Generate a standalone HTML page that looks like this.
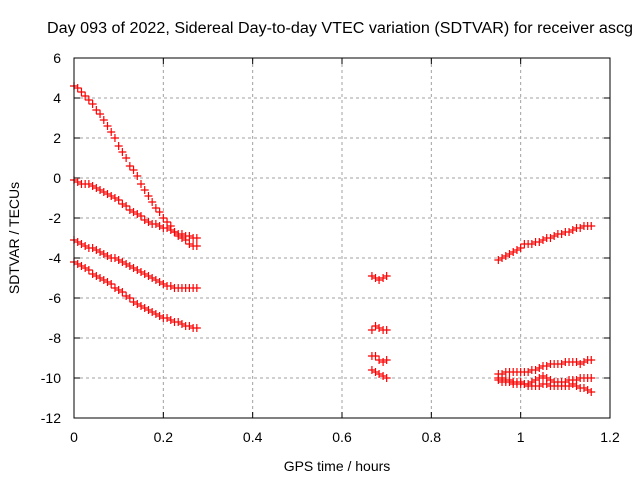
<!DOCTYPE html>
<html><head><meta charset="utf-8"><style>
body{margin:0;background:#fff}
svg text{font-family:"Liberation Sans",sans-serif;font-size:14px;fill:#000}
</style></head><body>
<svg id="c" width="640" height="480" xmlns="http://www.w3.org/2000/svg">
<text x="47" y="33" textLength="586" lengthAdjust="spacingAndGlyphs" style="font-size:15.5px">Day 093 of 2022, Sidereal Day-to-day VTEC variation (SDTVAR) for receiver ascg</text>
<text x="337" y="471" text-anchor="middle">GPS time / hours</text>
<text transform="translate(19,238) rotate(-90)" text-anchor="middle">SDTVAR / TECUs</text>
<g id="grid"></g><g id="ticks"></g><g id="marks"></g>
<rect x="74" y="58" width="536" height="360" fill="none" stroke="#000" stroke-width="1"/>
</svg>
<script>
const xTicks=[0,0.2,0.4,0.6,0.8,1,1.2];
const yTicks=[6,4,2,0,-2,-4,-6,-8,-10,-12];
const tA=[0,0.0083,0.0167,0.025,0.0333,0.0417,0.05,0.0583,0.0667,0.075,0.0833,0.0917,0.1,0.1083,0.1167,0.125,0.1333,0.1417,0.15,0.1583,0.1667,0.175,0.1833,0.1917,0.2,0.2083,0.2167,0.225,0.2333,0.2417,0.25,0.2583,0.2667,0.275];
const tB=[0.667,0.675,0.683,0.692,0.7];
const tC=[0.95,0.9583,0.9667,0.975,0.9833,0.9917,1,1.0083,1.0167,1.025,1.0333,1.0417,1.05,1.0583,1.0667,1.075,1.0833,1.0917,1.1,1.1083,1.1167,1.125,1.1333,1.1417,1.15,1.158];
const a1=[4.6,4.5,4.3,4.1,3.9,3.7,3.4,3.2,2.9,2.6,2.3,2.0,1.6,1.3,1.0,0.6,0.4,0.1,-0.3,-0.6,-0.9,-1.2,-1.5,-1.7,-2.0,-2.2,-2.4,-2.7,-2.9,-3.0,-3.1,-3.3,-3.4,-3.4];
const a2=[-0.1,-0.2,-0.3,-0.3,-0.3,-0.4,-0.5,-0.6,-0.7,-0.8,-0.9,-1.0,-1.1,-1.3,-1.4,-1.6,-1.7,-1.8,-1.9,-2.1,-2.2,-2.3,-2.3,-2.4,-2.5,-2.5,-2.6,-2.7,-2.8,-2.8,-2.9,-2.9,-3.0,-3.0];
const a3=[-3.1,-3.2,-3.3,-3.4,-3.5,-3.5,-3.6,-3.7,-3.8,-3.9,-4.0,-4.0,-4.1,-4.2,-4.3,-4.4,-4.5,-4.6,-4.7,-4.8,-4.9,-5.0,-5.1,-5.2,-5.3,-5.4,-5.4,-5.5,-5.5,-5.5,-5.5,-5.5,-5.5,-5.5];
const a4=[-4.2,-4.3,-4.4,-4.5,-4.6,-4.8,-4.9,-5.0,-5.1,-5.2,-5.3,-5.5,-5.6,-5.7,-5.9,-6.0,-6.2,-6.3,-6.4,-6.5,-6.6,-6.7,-6.8,-6.9,-7.0,-7.0,-7.1,-7.2,-7.2,-7.3,-7.4,-7.4,-7.5,-7.5];
const b1=[-4.9,-5.0,-5.1,-5.0,-4.9];
const b2=[-7.6,-7.4,-7.5,-7.6,-7.6];
const b3=[-8.9,-8.9,-9.1,-9.2,-9.1];
const b4=[-9.6,-9.7,-9.8,-9.9,-10.0];
const c1=[-4.1,-4.0,-3.9,-3.8,-3.7,-3.6,-3.5,-3.3,-3.3,-3.3,-3.2,-3.2,-3.1,-3.0,-3.0,-2.9,-2.8,-2.8,-2.7,-2.7,-2.6,-2.5,-2.5,-2.4,-2.4,-2.4];
const c2=[-9.8,-9.8,-9.7,-9.7,-9.7,-9.7,-9.7,-9.7,-9.7,-9.6,-9.6,-9.5,-9.4,-9.4,-9.3,-9.3,-9.3,-9.3,-9.2,-9.2,-9.2,-9.2,-9.3,-9.2,-9.1,-9.1];
const c3=[-10.0,-10.0,-10.1,-10.1,-10.2,-10.2,-10.2,-10.3,-10.3,-10.2,-10.1,-10.0,-9.9,-10.0,-10.1,-10.2,-10.2,-10.2,-10.2,-10.1,-10.1,-10.1,-10.0,-10.0,-10.0,-10.0];
const c4=[-10.1,-10.2,-10.2,-10.2,-10.3,-10.3,-10.3,-10.3,-10.4,-10.4,-10.4,-10.4,-10.3,-10.3,-10.4,-10.4,-10.4,-10.4,-10.4,-10.4,-10.3,-10.4,-10.5,-10.5,-10.6,-10.7];

const X0=74,X1=610,Y0=418,Y1=58;
function sx(v){return X0+(v-0)/(1.2-0)*(X1-X0);}
function sy(v){return Y0-(v-(-12))/(6-(-12))*(Y0-Y1);}
const NS='http://www.w3.org/2000/svg';
function mk(tag,attrs,parent){const e=document.createElementNS(NS,tag);for(const k in attrs)e.setAttribute(k,attrs[k]);parent.appendChild(e);return e;}
const grid=document.getElementById('grid'),ticks=document.getElementById('ticks'),marks=document.getElementById('marks');
xTicks.forEach(v=>{const x=sx(v);
 if(v>0&&v<1.2){const g=mk('line',{x1:x,x2:x,y1:Y1,y2:Y0,stroke:'#a0a0a0','stroke-dasharray':'3,3'},grid);
 
 }
 const t=mk('line',{x1:x,x2:x,y1:Y0,y2:Y0-6,stroke:'#000'},ticks);
 
 
 const t2=mk('line',{x1:x,x2:x,y1:Y1,y2:Y1+6,stroke:'#000'},ticks);
 
 
 const l=mk('text',{x:x,y:Y0+24,'text-anchor':'middle'},ticks);l.textContent=String(v);
 
 });
yTicks.forEach(v=>{const y=sy(v);
 if(v>-12&&v<6){const g=mk('line',{x1:X0,x2:X1,y1:y,y2:y,stroke:'#a0a0a0','stroke-dasharray':'3,3'},grid);
 
 }
 const t=mk('line',{x1:X0,x2:X0+6,y1:y,y2:y,stroke:'#000'},ticks);
 
 
 const t2=mk('line',{x1:X1,x2:X1-6,y1:y,y2:y,stroke:'#000'},ticks);
 
 
 const l=mk('text',{x:X0-13,y:y+5,'text-anchor':'end'},ticks);l.textContent=String(v);
 
 });
const series=[[tA,a1],[tA,a2],[tA,a3],[tA,a4],[tB,b1],[tB,b2],[tB,b3],[tB,b4],[tC,c1],[tC,c2],[tC,c3],[tC,c4]];
series.forEach((s,i)=>{let d='';
 s[0].forEach((t,j)=>{const x=sx(t),y=sy(s[1][j]);
  d+=`M${x-4},${y}h8M${x},${y-4}v8`;});
 const p=mk('path',{d:d,stroke:'#ff0000',fill:'none','stroke-width':1.2},marks);
 
 });
</script>
</body></html>
